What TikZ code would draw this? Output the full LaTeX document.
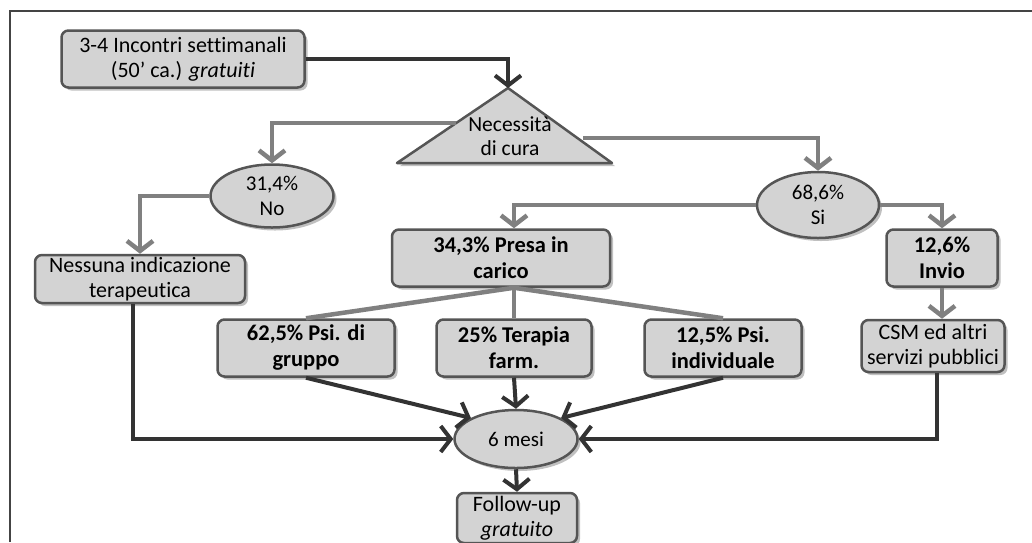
\documentclass[tikz,border=0pt]{standalone}
\usepackage{fontspec}
\setmainfont{Carlito}[Ligatures=NoCommon]
\usetikzlibrary{arrows.meta,shapes.geometric,shadows,calc}
\definecolor{boxfill}{HTML}{D3D3D3}
\definecolor{boxline}{HTML}{555555}
\definecolor{darkarr}{HTML}{333333}
\definecolor{grayarr}{HTML}{808080}
\definecolor{framec}{HTML}{444444}
\tikzset{
  shad/.style={drop shadow={shadow xshift=3pt,shadow yshift=-3pt,fill=black!45,opacity=0.55}},
  boxn/.style={draw=boxline,line width=2.5pt,fill=boxfill,rounded corners=7pt,inner sep=0pt,align=center,shad,
    font=\fontsize{22}{25}\selectfont},
  boldbox/.style={boxn,font=\fontsize{22.5}{26}\selectfont\bfseries},
  elln/.style={ellipse,draw=boxline,line width=2.5pt,fill=boxfill,inner sep=0pt,align=center,shad,
    font=\fontsize{21}{25}\selectfont},
  darrow/.style={draw=darkarr,line width=4pt,-{Straight Barb[length=10pt,width=26pt]}},
  garrow/.style={draw=grayarr,line width=4.5pt,-{Straight Barb[length=10pt,width=26pt]}},
  gline/.style={draw=grayarr,line width=4.5pt},
}
\begin{document}
\begin{tikzpicture}[x=1pt,y=-1pt]
\useasboundingbox (0,0) rectangle (1032,542);
% frame
\draw[framec,line width=1.5pt] (10,542) -- (10,11) -- (1032,11);
% triangle
\coordinate (tA) at (508,88);
\coordinate (tL) at (397,163);
\coordinate (tR) at (612,163);
\filldraw[draw=boxline,line width=2.5pt,fill=boxfill,line join=round,shad] (tA) -- (tR) -- (tL) -- cycle;
\node[font=\fontsize{21.5}{24}\selectfont,align=center] (nec) at (510,136) {Necessità\\di cura};
\coordinate (tl) at (456,123);
\coordinate (tr) at (583,138);
% nodes
\node[boxn,minimum width=243,minimum height=57] (b1) at (183,59) {3-4 Incontri settimanali\\(50’ ca.) \textit{gratuiti}};
\node[elln,minimum width=123,minimum height=63] (no) at (272,196) {31,4\%\\No};
\node[elln,minimum width=122,minimum height=66] (si) at (818,205) {68,6\%\\Si};
\node[boxn,minimum width=210,minimum height=48] (ness) at (140,279) {Nessuna indicazione\\terapeutica};
\node[boldbox,minimum width=218,minimum height=57] (presa) at (501,258) {34,3\% Presa in\\carico};
\node[boldbox,minimum width=111,minimum height=57] (invio) at (942,258) {12,6\%\\Invio};
\node[boxn,minimum width=143,minimum height=52] (csm) at (933,346) {CSM ed altri\\servizi pubblici};
\node[boldbox,minimum width=177,minimum height=57] (g1) at (306,348) {62,5\% Psi. di\\gruppo};
\node[boldbox,minimum width=155,minimum height=57] (g2) at (514,348) {25\% Terapia\\farm.};
\node[boldbox,minimum width=157,minimum height=57] (g3) at (723,348) {12,5\% Psi.\\individuale};
\node[elln,minimum width=123,minimum height=58] (mesi) at (516,439) {6 mesi};
\node[boxn,minimum width=120,minimum height=50] (fol) at (517,518) {Follow-up\\\textit{gratuito}};
% connectors
\draw[darrow] (b1.east) -| (tA);
\draw[garrow] (tl) -| (no.north);
\draw[garrow] (tr) -| (si.north);
\draw[garrow] (no.west) -| (ness.north);
\draw[garrow] (si.west) -| (g2.north |- presa.north);
\draw[garrow] (si.east) -| (invio.north);
\draw[garrow] (invio.south) -- (invio.south |- csm.north);
\coordinate (ps) at (g2.north |- presa.south);
\draw[gline] (ps) -- (g1.north);
\draw[gline] (ps) -- (g2.north);
\draw[gline] (ps) -- (g3.north);
\draw[darrow] (g1.south) -- (mesi.155);
\draw[darrow] (g2.south) -- (mesi.north);
\draw[darrow] (g3.south) -- (mesi.25);
\draw[darrow] ([xshift=-7pt]ness.south) |- (mesi.west);
\draw[darrow] ([xshift=4pt]csm.south) |- (mesi.east);
\draw[darrow] (mesi.south) -- (fol.north);
\end{tikzpicture}
\end{document}
